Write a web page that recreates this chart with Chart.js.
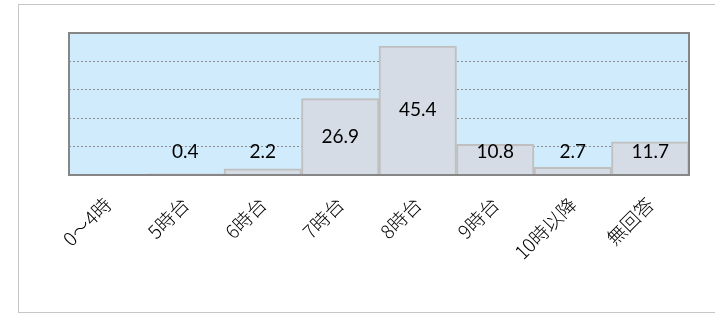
<!DOCTYPE html>
<html>
<head>
<meta charset="utf-8">
<script src="https://cdn.jsdelivr.net/npm/chart.js@4"></script>
<style>
  html, body { margin: 0; padding: 0; background: #fff; }
  #wrap { width: 715px; height: 315px; position: relative; }
</style>
</head>
<body>
<div id="wrap"><canvas id="chartTimes" width="715" height="315"></canvas></div>
<script>
/* 時間帯ごとの割合 */
const categories = ['0～4時', '5時台', '6時台', '7時台', '8時台', '9時台', '10時以降', '無回答'];
const values = [0, 0.4, 2.2, 26.9, 45.4, 10.8, 2.7, 11.7];
const yMax = 50;
const yStep = 10;

/* 外枠とプロットエリア */
const frame = {
  id: 'frame',
  beforeDraw(chart) {
    const c = chart.ctx;
    const a = chart.chartArea;
    c.save();
    c.strokeStyle = '#c6c6c6';
    c.lineWidth = 1;
    c.strokeRect(18.5, 4.5, 720, 308);
    c.fillStyle = '#d0ecfc';
    c.fillRect(a.left, a.top, a.right - a.left, a.bottom - a.top);
    c.restore();
  },
  afterDatasetsDraw(chart) {
    const c = chart.ctx;
    const a = chart.chartArea;
    c.save();
    c.strokeStyle = '#868686';
    c.lineWidth = 2;
    c.strokeRect(a.left, a.top, a.right - a.left, a.bottom - a.top);

    // ラベル
    c.fillStyle = '#000';
    c.font = '19px Lato';
    c.textAlign = 'center';
    c.textBaseline = 'middle';
    const meta = chart.getDatasetMeta(0);
    meta.data.forEach((bar, i) => {
      if (!values[i]) return;
      const y = Math.min((bar.y + bar.base) / 2, a.bottom - 23);
      c.fillText(values[i].toFixed(1), bar.x, y);
    });
    c.restore();
  },
};

const ctx = document.getElementById('chartTimes').getContext('2d');
const chartTimes = new Chart(ctx, {
  type: 'bar',
  data: {
    labels: categories,
    datasets: [
      {
        data: values,
        backgroundColor: '#d6dce5',
        borderColor: '#bfbfbf',
        borderWidth: 2,
        borderSkipped: 'bottom',
        barPercentage: 1,
        categoryPercentage: 1,
      },
    ],
  },
  options: {
    responsive: false,
    animation: false,
    layout: {
      padding: { top: 33, left: 69, right: 26, bottom: 0 },
    },
    scales: {
      x: {
        grid: { display: false, drawTicks: false },
        border: { display: false },
        ticks: {
          minRotation: 45,
          maxRotation: 45,
          padding: 18,
          color: '#000',
          font: { family: '"Noto Sans CJK JP"', size: 19, weight: '300' },
        },
        afterFit: (s) => { s.height = 140; },
      },
      y: {
        min: 0,
        max: yMax,
        ticks: { display: false, stepSize: yStep },
        grid: { color: '#8c8c8c', lineWidth: 1, drawTicks: false },
        border: { display: false, dash: [2, 2] },
        afterFit: (s) => { s.width = 0; },
      },
    },
    plugins: {
      legend: { display: false },
      tooltip: { enabled: false },
    },
  },
  plugins: [frame],
});
</script>
</body>
</html>
